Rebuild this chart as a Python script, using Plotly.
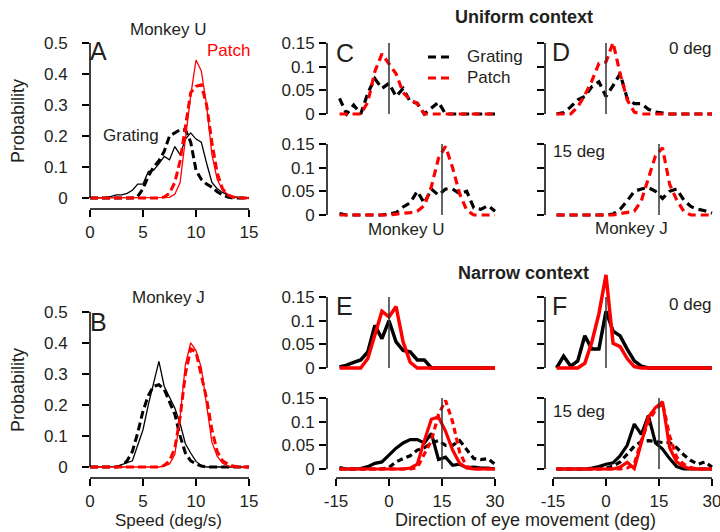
import plotly.graph_objects as go

W, H = 720, 532
FONT = "Liberation Sans, Arial, Helvetica, sans-serif"
TXT = "#231f20"
RED = "#ff0000"
BLK = "#000000"

# ---------------- data ----------------
SPEED = [0, 0.5, 1, 1.5, 2, 2.5, 3, 3.5, 4, 4.5, 5, 5.5, 6, 6.5, 7, 7.5,
         8, 8.5, 9, 9.5, 10, 10.5, 11, 11.5, 12, 12.5, 13, 13.5, 14, 14.5, 15]
SPEED_TICKS = [0, 5, 10, 15]
PROB_TICKS = [0, 0.1, 0.2, 0.3, 0.4, 0.5]
PROB_LABELS = ["0", "0.1", "0.2", "0.3", "0.4", "0.5"]

# Panel A (Monkey U)
A_GRATING_SOLID = [0, 0, 0, 0.002, 0.005, 0.01, 0.01, 0.015, 0.025, 0.045, 0.045, 0.085, 0.09, 0.11, 0.134, 0.123,
                   0.166, 0.14, 0.19, 0.21, 0.19, 0.18, 0.112, 0.05, 0.03, 0.018, 0.01, 0.004, 0.001, 0, 0]
A_GRATING_DASH = [0, 0, 0, 0, 0, 0, 0, 0, 0, 0.005, 0.03, 0.07, 0.1, 0.12, 0.15, 0.2,
                  0.21, 0.22, 0.22, 0.18, 0.09, 0.06, 0.045, 0.035, 0.02, 0.01, 0.003, 0, 0, 0, 0]
A_PATCH_SOLID = [0, 0, 0, 0, 0, 0, 0, 0, 0, 0, 0, 0, 0, 0, 0, 0.002,
                 0.012, 0.05, 0.19, 0.33, 0.445, 0.41, 0.3, 0.14, 0.06, 0.025, 0.012, 0.005, 0.001, 0, 0]
A_PATCH_DASH = [0, 0, 0, 0, 0, 0, 0, 0, 0, 0, 0, 0, 0, 0, 0.003, 0.015,
                0.05, 0.12, 0.23, 0.34, 0.36, 0.365, 0.3, 0.18, 0.08, 0.03, 0.01, 0.003, 0, 0, 0]

# Panel B (Monkey J)
B_GRATING_SOLID = [0, 0, 0, 0, 0, 0.002, 0.008, 0.014, 0.02, 0.07, 0.12, 0.2, 0.27, 0.34, 0.26, 0.225,
                   0.19, 0.14, 0.075, 0.045, 0.018, 0.005, 0, 0, 0, 0, 0, 0, 0, 0, 0]
B_GRATING_DASH = [0, 0, 0, 0, 0, 0, 0.003, 0.02, 0.05, 0.11, 0.18, 0.23, 0.26, 0.265, 0.25, 0.21,
                  0.17, 0.1, 0.045, 0.02, 0.01, 0.003, 0, 0, 0, 0, 0, 0, 0, 0, 0]
B_PATCH_SOLID = [0, 0, 0, 0, 0, 0, 0, 0, 0, 0, 0, 0, 0, 0, 0.003, 0.01,
                 0.04, 0.16, 0.33, 0.4, 0.375, 0.32, 0.2, 0.08, 0.035, 0.012, 0.004, 0, 0, 0, 0]
B_PATCH_DASH = [0, 0, 0, 0, 0, 0, 0, 0, 0, 0, 0, 0, 0, 0, 0.005, 0.02,
                0.06, 0.16, 0.3, 0.38, 0.37, 0.3, 0.22, 0.12, 0.05, 0.02, 0.01, 0.003, 0, 0, 0]

DIRECTION = [-14, -12, -10, -8, -6, -4, -2, 0, 2, 4, 6, 8, 10, 12, 14, 16, 18, 20, 22, 24, 26, 28, 30]
DIR_TICKS = [-15, 0, 15, 30]
DIR_LABELS = ["-15", "0", "15", "30"]
SMALL_TICKS = [0, 0.05, 0.1, 0.15]
SMALL_LABELS = ["0", "0.05", "0.1", "0.15"]
TARGETS = [0, 15]          # target direction of top / bottom rows (deg)
TARGET_MARK_HEIGHT = 0.15

# Uniform context, Monkey U (C)
C0_GRATING = [0.033, 0, 0.019, 0, 0.044, 0.075, 0.054, 0.065, 0.037, 0.054, 0.026, 0.023, 0, 0.012, 0.025, 0,
              0, 0, 0, 0, 0, 0, 0]
C0_PATCH = [0, 0, 0, 0, 0.025, 0.09, 0.127, 0.105, 0.085, 0.045, 0.03, 0.022, 0, 0, 0, 0,
            0, 0, 0, 0, 0, 0, 0]
C15_GRATING = [0.003, 0, 0, 0, 0, 0, 0, 0.002, 0.005, 0.017, 0.026, 0.05, 0.025, 0.055, 0.042, 0.055,
               0.055, 0.045, 0.05, 0.015, 0.012, 0.02, 0.008]
C15_PATCH = [0, 0, 0, 0, 0, 0, 0, 0, 0.002, 0.003, 0.005, 0.008, 0.02, 0.06, 0.12, 0.145,
             0.1, 0.045, 0.01, 0, 0, 0, 0]
# Uniform context, Monkey J (D)
D0_GRATING = [0, 0.003, 0.015, 0.03, 0.037, 0.058, 0.068, 0.037, 0.06, 0.085, 0.033, 0.022, 0.022, 0.01, 0.004, 0.002,
              0, 0, 0, 0, 0, 0, 0]
D0_PATCH = [0, 0, 0, 0.015, 0.04, 0.07, 0.107, 0.11, 0.151, 0.085, 0.03, 0.004, 0, 0, 0, 0,
            0, 0, 0, 0, 0, 0, 0]
D15_GRATING = [0, 0, 0, 0, 0, 0, 0, 0, 0.002, 0.012, 0.03, 0.05, 0.055, 0.058, 0.05, 0.035,
               0.05, 0.055, 0.032, 0.018, 0.012, 0.009, 0.004]
D15_PATCH = [0, 0, 0, 0, 0, 0, 0, 0, 0, 0.003, 0.005, 0.008, 0.03, 0.075, 0.125, 0.142,
             0.065, 0.032, 0.008, 0, 0, 0, 0]
# Narrow context, Monkey U (E)
E0_GRATING = [0.002, 0.006, 0.012, 0.017, 0.034, 0.09, 0.062, 0.1, 0.055, 0.037, 0.034, 0.017, 0.017, 0, 0, 0,
              0, 0, 0, 0, 0, 0, 0]
E0_PATCH = [0, 0, 0, 0, 0.02, 0.07, 0.12, 0.108, 0.13, 0.055, 0.012, 0, 0, 0, 0, 0,
            0, 0, 0, 0, 0, 0, 0]
E15_GRATING = [0.003, 0, 0, 0.001, 0.005, 0.012, 0.015, 0.03, 0.044, 0.055, 0.062, 0.062, 0.055, 0.075, 0.02, 0.025,
               0.008, 0.01, 0.003, 0.004, 0.002, 0.002, 0]
E15_GRATING_UNIFORM = [0, 0, 0, 0, 0, 0, 0, 0.003, 0.015, 0.022, 0.028, 0.04, 0.045, 0.055, 0.06, 0.05,
                       0.05, 0.06, 0.04, 0.022, 0.02, 0.022, 0.01]
E15_PATCH = [0, 0, 0, 0, 0, 0, 0, 0, 0, 0, 0.002, 0.01, 0.06, 0.105, 0.11, 0.08,
             0.04, 0.012, 0.002, 0, 0, 0, 0]
E15_PATCH_UNIFORM = [0, 0, 0, 0, 0, 0, 0, 0, 0, 0, 0, 0.003, 0.03, 0.06, 0.115, 0.145,
                     0.1, 0.035, 0.005, 0, 0, 0, 0]
# Narrow context, Monkey J (F)
F0_GRATING = [0, 0.025, 0.004, 0.015, 0.068, 0.04, 0.04, 0.12, 0.078, 0.068, 0.04, 0.015, 0.004, 0, 0, 0,
              0, 0, 0, 0, 0, 0, 0]
F0_PATCH = [0, 0, 0, 0, 0.01, 0.055, 0.115, 0.197, 0.052, 0.045, 0.02, 0.003, 0, 0, 0, 0,
            0, 0, 0, 0, 0, 0, 0]
F15_GRATING = [0, 0, 0, 0, 0, 0.002, 0.005, 0.01, 0.013, 0.028, 0.05, 0.095, 0.073, 0.113, 0.055, 0.042,
               0.022, 0.005, 0, 0, 0, 0, 0]
F15_GRATING_UNIFORM = [0, 0, 0, 0, 0, 0, 0, 0.002, 0.006, 0.015, 0.032, 0.048, 0.058, 0.06, 0.058, 0.056,
                       0.056, 0.045, 0.03, 0.018, 0.01, 0.015, 0.004]
F15_PATCH = [0, 0, 0, 0, 0, 0, 0, 0, 0, 0.004, 0.014, 0.001, 0.055, 0.11, 0.13, 0.142,
             0.045, 0.015, 0.005, 0, 0, 0, 0]
F15_PATCH_UNIFORM = [0, 0, 0, 0, 0, 0, 0, 0, 0, 0, 0.002, 0.01, 0.06, 0.1, 0.125, 0.14,
                     0.07, 0.025, 0.01, 0.003, 0, 0, 0]

# ---------------- layout helpers (pixel geometry) ----------------
def px(x):
    return x / W


def py(y):
    return 1 - y / H


def xgeom(left, right, v_ref, p_ref, ppu):
    return dict(domain=[px(left), px(right)],
                range=[v_ref - (p_ref - left) / ppu, v_ref + (right - p_ref) / ppu])


def ygeom(bottom, top, p_zero, ppu):
    return dict(domain=[py(bottom), py(top)],
                range=[-(bottom - p_zero) / ppu, (p_zero - top) / ppu])


SPD_PPU = 159 / 15.0
DIR_PPU = 159 / 45.0
SML_PPU = 473.0

geo = {
    "A": (xgeom(90, 249, 0, 90, SPD_PPU), ygeom(209, 41.5, 198, 310)),
    "B": (xgeom(90, 249, 0, 90, SPD_PPU), ygeom(478, 310.2, 467, 310.6)),
    "C0": (xgeom(327, 497, -15, 336, DIR_PPU), ygeom(114 + 0.006 * SML_PPU, 114 - 0.16 * SML_PPU, 114, SML_PPU)),
    "C15": (xgeom(327, 497, -15, 336, DIR_PPU), ygeom(215 + 0.006 * SML_PPU, 215 - 0.16 * SML_PPU, 215, SML_PPU)),
    "D0": (xgeom(545, 714, -15, 553, DIR_PPU), ygeom(114 + 0.006 * SML_PPU, 114 - 0.16 * SML_PPU, 114, SML_PPU)),
    "D15": (xgeom(545, 714, -15, 553, DIR_PPU), ygeom(215 + 0.006 * SML_PPU, 215 - 0.16 * SML_PPU, 215, SML_PPU)),
    "E0": (xgeom(327, 497, -15, 336, DIR_PPU), ygeom(368 + 0.006 * SML_PPU, 368 - 0.16 * SML_PPU, 368, SML_PPU)),
    "E15": (xgeom(327, 497, -15, 336, DIR_PPU), ygeom(478, 469 - 0.16 * SML_PPU, 469, SML_PPU)),
    "F0": (xgeom(545, 714, -15, 553, DIR_PPU), ygeom(368 + 0.006 * SML_PPU, 368 - 0.21 * SML_PPU, 368, SML_PPU)),
    "F15": (xgeom(545, 714, -15, 553, DIR_PPU), ygeom(478, 469 - 0.16 * SML_PPU, 469, SML_PPU)),
}
order = ["A", "B", "C0", "C15", "D0", "D15", "E0", "E15", "F0", "F15"]
axid = {k: i + 1 for i, k in enumerate(order)}

fig = go.Figure()
layout = dict(width=W, height=H, margin=dict(l=0, r=0, t=0, b=0, autoexpand=False),
              paper_bgcolor="white", plot_bgcolor="rgba(0,0,0,0)",
              showlegend=False, font=dict(family=FONT, size=17, color=TXT))
shapes = []
annotations = []

TICKFONT = dict(family=FONT, size=17, color=TXT)


def to_paper(v, g):
    d0, d1 = g["domain"]
    r0, r1 = g["range"]
    return d0 + (v - r0) / (r1 - r0) * (d1 - d0)


for k in order:
    n = axid[k]
    xg, yg = geo[k]
    xs = "" if n == 1 else str(n)
    xa = dict(domain=xg["domain"], range=xg["range"], anchor="y" + xs, showgrid=False, zeroline=False,
              showline=False, fixedrange=True)
    ya = dict(domain=yg["domain"], range=yg["range"], anchor="x" + xs, showgrid=False, zeroline=False,
              showline=False, fixedrange=True, ticks="outside", ticklen=7, tickwidth=1.5, tickcolor=BLK,
              tickfont=TICKFONT)
    if k in ("A", "B"):
        xa.update(tickmode="array", tickvals=SPEED_TICKS, ticks="outside", ticklen=7, tickwidth=1.5,
                  tickcolor=BLK, tickfont=TICKFONT, ticklabelstandoff=1)
        ya.update(tickmode="array", tickvals=PROB_TICKS, ticktext=PROB_LABELS, ticklabelstandoff=11)
        ytop = PROB_TICKS[-1]
        xline = (SPEED_TICKS[0], SPEED_TICKS[-1])
    else:
        ya.update(tickmode="array", tickvals=SMALL_TICKS, ticktext=SMALL_LABELS, ticklabelstandoff=1)
        if k[0] in ("D", "F"):
            ya.update(showticklabels=False)
        ytop = SMALL_TICKS[-1]
        if k in ("E15", "F15"):
            xa.update(tickmode="array", tickvals=DIR_TICKS, ticktext=DIR_LABELS, ticks="outside", ticklen=7,
                      tickwidth=1.5, tickcolor=BLK, tickfont=TICKFONT, ticklabelstandoff=1,
                      ticklabeloverflow="allow")
            xline = (DIR_TICKS[0], DIR_TICKS[-1])
        else:
            xa.update(visible=False)
            xline = None
    layout["xaxis" + xs] = xa
    layout["yaxis" + xs] = ya

    shapes.append(dict(type="line", xref="paper", yref="paper", x0=xg["domain"][0], x1=xg["domain"][0],
                       y0=to_paper(0, yg), y1=to_paper(ytop, yg), line=dict(color=BLK, width=1.5), layer="above"))
    if xline is not None:
        shapes.append(dict(type="line", xref="paper", yref="paper", x0=to_paper(xline[0], xg),
                           x1=to_paper(xline[1], xg), y0=yg["domain"][0], y1=yg["domain"][0],
                           line=dict(color=BLK, width=1.5), layer="above"))


def add(k, x, y, color, width, dash="solid"):
    n = axid[k]
    xs = "" if n == 1 else str(n)
    fig.add_trace(go.Scatter(x=x, y=y, mode="lines", xaxis="x" + xs, yaxis="y" + xs,
                             line=dict(color=color, width=width, dash=dash), hoverinfo="skip",
                             showlegend=False))


def target(k, t):
    add(k, [t, t], [0, TARGET_MARK_HEIGHT], "#333333", 1.5)


THIN, THICK = 1.3, 3.0
DASH_A = "8px,4px"
DASH_C = "8px,5px"

add("A", SPEED, A_GRATING_SOLID, BLK, THIN)
add("A", SPEED, A_GRATING_DASH, BLK, THICK, DASH_A)
add("A", SPEED, A_PATCH_DASH, RED, THICK, DASH_A)
add("A", SPEED, A_PATCH_SOLID, RED, THIN)
add("B", SPEED, B_GRATING_SOLID, BLK, THIN)
add("B", SPEED, B_GRATING_DASH, BLK, THICK, DASH_A)
add("B", SPEED, B_PATCH_DASH, RED, THICK, DASH_A)
add("B", SPEED, B_PATCH_SOLID, RED, THIN)
for k, g, p, t in [("C0", C0_GRATING, C0_PATCH, TARGETS[0]), ("C15", C15_GRATING, C15_PATCH, TARGETS[1]),
                   ("D0", D0_GRATING, D0_PATCH, TARGETS[0]), ("D15", D15_GRATING, D15_PATCH, TARGETS[1])]:
    add(k, DIRECTION, g, BLK, 3.2, DASH_C)
    add(k, DIRECTION, p, RED, 3.2, DASH_C)
    target(k, t)
for k, g, p in [("E0", E0_GRATING, E0_PATCH), ("F0", F0_GRATING, F0_PATCH)]:
    add(k, DIRECTION, g, BLK, 3.5)
    add(k, DIRECTION, p, RED, 3.5)
    target(k, TARGETS[0])
for k, gs, gd, ps, pd in [("E15", E15_GRATING, E15_GRATING_UNIFORM, E15_PATCH, E15_PATCH_UNIFORM),
                          ("F15", F15_GRATING, F15_GRATING_UNIFORM, F15_PATCH, F15_PATCH_UNIFORM)]:
    add(k, DIRECTION, gd, BLK, 3.2, "6px,4px")
    add(k, DIRECTION, gs, BLK, 3.2)
    add(k, DIRECTION, pd, RED, 3.2, "6px,4px")
    add(k, DIRECTION, ps, RED, 3.2)
    target(k, TARGETS[1])


def text(s, x, y, size=17, color=TXT, xanchor="center", bold=False, angle=0):
    annotations.append(dict(text="<b>%s</b>" % s if bold else s, x=px(x), y=py(y), xref="paper", yref="paper",
                            xanchor=xanchor, yanchor="middle", showarrow=False, textangle=angle,
                            borderpad=0, font=dict(family=FONT, size=size, color=color)))


text("Monkey U", 168, 29)
text("A", 89, 51, size=25, xanchor="left")
text("Patch", 206, 51, color=RED, xanchor="left")
text("Grating", 102, 135, xanchor="left")
text("Probability", 18, 121, size=18, angle=-90)
text("Monkey J", 168, 297)
text("B", 89, 322, size=25, xanchor="left")
text("Probability", 18, 390, size=18, angle=-90)
text("Speed (deg/s)", 168, 520, size=17)
text("Uniform context", 523.5, 17, size=18, bold=True)
text("Narrow context", 523, 273, size=18, bold=True)
text("C", 335, 53, size=25, xanchor="left")
text("D", 551, 52, size=25, xanchor="left")
text("E", 335, 306, size=25, xanchor="left")
text("F", 551, 306, size=25, xanchor="left")
text("0 deg", 713, 49, xanchor="right")
text("15 deg", 552, 151, xanchor="left")
text("0 deg", 713, 304, xanchor="right")
text("15 deg", 552, 411, xanchor="left")
text("Monkey U", 406, 229)
text("Monkey J", 631.5, 228)
text("Direction of eye movement (deg)", 525.5, 520, size=18)
text("Grating", 466, 57, xanchor="left")
text("Patch", 466, 78, xanchor="left")
shapes.append(dict(type="line", xref="paper", yref="paper", x0=px(428), x1=px(452), y0=py(57), y1=py(57),
                   line=dict(color=BLK, width=3.2, dash=DASH_C)))
shapes.append(dict(type="line", xref="paper", yref="paper", x0=px(428), x1=px(452), y0=py(78), y1=py(78),
                   line=dict(color=RED, width=3.2, dash=DASH_C)))

layout["annotations"] = annotations
layout["shapes"] = shapes
fig.update_layout(**layout)
fig.write_html("out.html")
